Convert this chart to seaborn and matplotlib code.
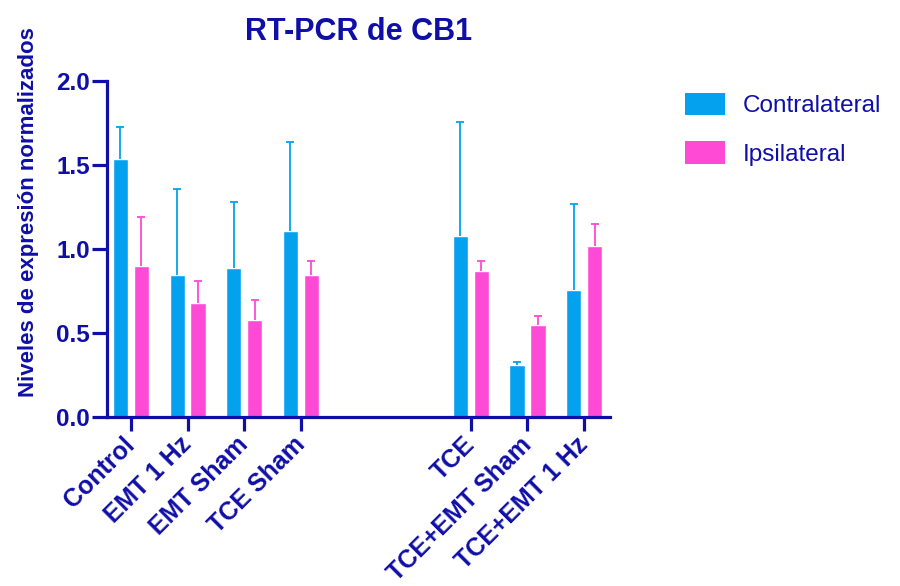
import matplotlib
matplotlib.use("Agg")
import matplotlib.pyplot as plt
from matplotlib.patches import Patch
import numpy as np
import pandas as pd
import seaborn as sns

# values (mean and upper error)
groups = ["Control", "EMT 1 Hz", "EMT Sham", "TCE Sham",
          "TCE", "TCE+EMT Sham", "TCE+EMT 1 Hz"]
contra_mean = [1.54, 0.85, 0.89, 1.11, 1.08, 0.31, 0.76]
contra_err = [0.19, 0.51, 0.39, 0.53, 0.68, 0.02, 0.51]
ipsi_mean = [0.90, 0.68, 0.58, 0.85, 0.87, 0.55, 1.02]
ipsi_err = [0.29, 0.13, 0.12, 0.08, 0.06, 0.05, 0.13]
sides = ["Contralateral", "Ipsilateral"]

# two empty slots between the two blocks of groups
order = groups[:4] + [" ", "  "] + groups[4:]

navy = "#0f0fa8"
palette = {"Contralateral": "#04a2ee", "Ipsilateral": "#ff4ad6"}

df = pd.DataFrame({
    "group": groups * 2,
    "side": [sides[0]] * len(groups) + [sides[1]] * len(groups),
    "value": contra_mean + ipsi_mean,
    "err": contra_err + ipsi_err,
})

sns.set_style("ticks")
plt.rcParams["font.family"] = ["Liberation Sans", "DejaVu Sans"]

fig = plt.figure(figsize=(9, 5.86), dpi=100)
ax = fig.add_axes([0.119, 0.288, 0.559, 0.573])

sns.barplot(data=df, x="group", y="value", hue="side", order=order,
            hue_order=sides, palette=palette, width=0.74, gap=0.28,
            errorbar=None, saturation=1, legend=False, ax=ax)

# upward-only error bars on each bar
for cont, side in zip(ax.containers, sides):
    sub = df[df.side == side].set_index("group").reindex(
        [g for g in order if g in groups])
    xs = [b.get_x() + b.get_width() / 2 for b in cont]
    hs = [b.get_height() for b in cont]
    _, caps, _ = ax.errorbar(xs, hs, yerr=[np.zeros(len(xs)), sub["err"].values],
                             fmt="none", ecolor=palette[side], elinewidth=1.3,
                             capsize=3, capthick=1.3)
    caps[0].set_visible(False)

ax.set_ylim(0, 2.0)
ax.set_yticks([0, 0.5, 1.0, 1.5, 2.0])
ax.set_yticklabels(["0.0", "0.5", "1.0", "1.5", "2.0"])
ax.set_xlim(-0.42, 8.46)
ticks = [i for i, g in enumerate(order) if g.strip()]
ax.set_xticks(ticks)
ax.set_xticklabels([order[i] for i in ticks], rotation=45, ha="right",
                   va="center", rotation_mode="anchor")

sns.despine(ax=ax)
for s in ["left", "bottom"]:
    ax.spines[s].set_linewidth(2.3)
    ax.spines[s].set_color(navy)
ax.tick_params(axis="both", colors=navy, width=2.3)
ax.tick_params(axis="y", labelsize=17.5, length=11, pad=1.5)
ax.tick_params(axis="x", labelsize=18, length=10, pad=7)
for lab in ax.get_xticklabels() + ax.get_yticklabels():
    lab.set_fontweight("bold")

ax.set_xlabel("")
ax.set_ylabel("Niveles de expresión normalizados", fontsize=16,
              fontweight="bold", color=navy)
ax.yaxis.set_label_coords(-0.136, 0.61)
ax.set_title("RT-PCR de CB1", fontsize=22, fontweight="bold",
             color=navy, pad=30)

handles = [Patch(facecolor=palette[s], edgecolor="none") for s in sides]
leg = fig.legend(handles, sides, loc="upper left",
                 bbox_to_anchor=(0.761, 0.842), frameon=False,
                 borderpad=0, borderaxespad=0,
                 fontsize=17.5, handlelength=1.65, handleheight=1.05,
                 handletextpad=0.75, labelspacing=1.0)
for t in leg.get_texts():
    t.set_color(navy)

fig.savefig("out.png", dpi=100)
